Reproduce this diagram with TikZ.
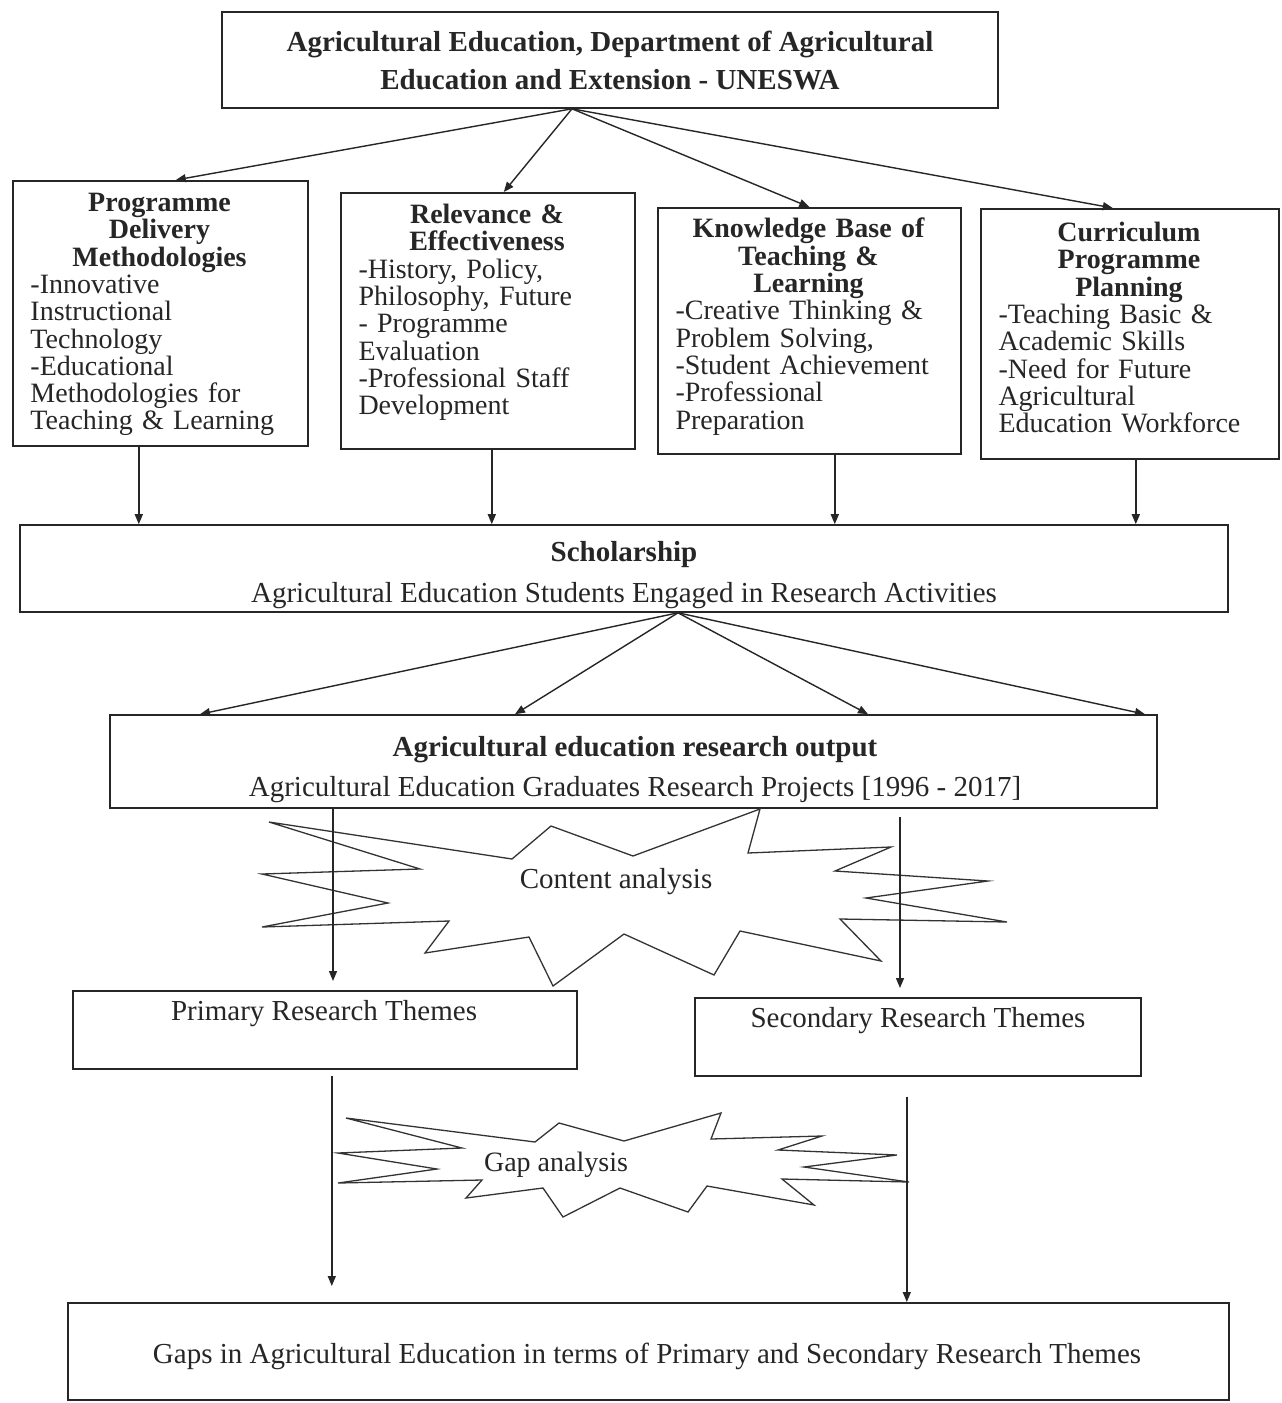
\documentclass[tikz,border=0pt]{standalone}
\usepackage{fontspec}
\setmainfont{Liberation Serif}
\usetikzlibrary{arrows.meta,calc}
\tikzset{
  box/.style={draw=black!85, line width=1.6pt, rectangle, inner sep=0pt},
  txt/.style={inner sep=0pt, text=black!85, font=\fontsize{28}{27.3}\selectfont},
  bigtxt/.style={inner sep=0pt, text=black!85, font=\fontsize{29}{28}\selectfont},
  arr/.style={draw=black!85, line width=1.4pt, -{Triangle[length=10pt,width=8pt]}},
  starline/.style={draw=black!80, line width=1.3pt, line join=miter},
}
\begin{document}
\begin{tikzpicture}[x=1pt,y=-1pt]
\useasboundingbox (0,0) rectangle (1282,1403);
\fill[white] (0,0) rectangle (1282,1403);

% top box
\node[box, minimum width=776pt, minimum height=96pt] (top) at (610,60) {};
\node[bigtxt, align=center, font=\fontsize{29}{28}\selectfont\bfseries] (toptxt) at (610,61)
  {Agricultural Education, Department of Agricultural\\[10pt]Education and Extension - UNESWA};

% four boxes
\node[box, minimum width=295pt, minimum height=265pt, anchor=north west] (b1) at (12,180) {};
\node[box, minimum width=294pt, minimum height=256pt, anchor=north west] (b2) at (340,192) {};
\node[box, minimum width=303pt, minimum height=246pt, anchor=north west] (b3) at (657,207) {};
\node[box, minimum width=298pt, minimum height=250pt, anchor=north west] (b4) at (980,208) {};

\node[txt, text width=258pt, anchor=north] (t1) at (159.5,193)
  {{\centering\bfseries Programme\\Delivery\\Methodologies\par}\raggedright
   -Innovative\\Instructional\\Technology\\-Educational\\Methodologies for\\Teaching \& Learning};
\node[txt, text width=257pt, anchor=north] (t2) at (487,204)
  {{\centering\bfseries Relevance \&\\Effectiveness\par}\raggedright
   -History, Policy,\\Philosophy, Future\\- Programme\\Evaluation\\-Professional Staff\\Development};
\node[txt, text width=266pt, anchor=north] (t3) at (808.5,218)
  {{\centering\bfseries Knowledge Base of\\Teaching \&\\Learning\par}\raggedright
   -Creative Thinking \&\\Problem Solving,\\-Student Achievement\\-Professional\\Preparation};
\node[txt, text width=261pt, anchor=north] (t4) at (1129,222)
  {{\centering\bfseries Curriculum\\Programme\\Planning\par}\raggedright
   -Teaching Basic \&\\Academic Skills\\-Need for Future\\Agricultural\\Education Workforce};

% scholarship
\node[box, minimum width=1208pt, minimum height=87pt] (sch) at (624,568.5) {};
\node[bigtxt, align=center] (schtxt) at (624,575)
  {\textbf{Scholarship}\\[13pt]Agricultural Education Students Engaged in Research Activities};

% research output
\node[box, minimum width=1047pt, minimum height=93pt] (out) at (633.5,761.5) {};
\node[bigtxt, align=center] (outtxt) at (635,770)
  {\textbf{Agricultural education research output}\\[12pt]Agricultural Education Graduates Research Projects [1996 - 2017]};

% content analysis star
\draw[starline] (269,822) -- (512,859) -- (551,826) -- (633,856) -- (760,809) -- (748,853)
  -- (891,847) -- (835,871) -- (988,881) -- (866,898) -- (1007,922) -- (840,919)
  -- (881,961) -- (740,931) -- (714,975) -- (624,934) -- (553,986) -- (529,937)
  -- (425,953) -- (449,921) -- (262,927) -- (388,903) -- (262,874) -- (420,869) -- cycle;
\node[bigtxt] (catxt) at (616,882) {Content analysis};

% primary / secondary
\node[box, minimum width=504pt, minimum height=78pt, anchor=north west] (prim) at (72,990) {};
\node[bigtxt] (primtxt) at (324,1014) {Primary Research Themes};
\node[box, minimum width=446pt, minimum height=78pt, anchor=north west] (sec) at (694,997) {};
\node[bigtxt] (sectxt) at (918,1021) {Secondary Research Themes};

% gap analysis star
\draw[starline] (346,1118) -- (535,1142) -- (559,1123) -- (624,1141) -- (721,1113) -- (711,1139)
  -- (822,1136) -- (778,1150) -- (897,1155) -- (804,1167) -- (909,1182) -- (782,1179)
  -- (814,1205) -- (707,1186) -- (688,1212) -- (620,1188) -- (563,1217) -- (543,1188)
  -- (466,1198) -- (482,1180) -- (338,1183) -- (437,1169) -- (338,1153) -- (462,1148) -- cycle;
\node[txt] (gatxt) at (556,1165) {Gap analysis};

% bottom box
\node[box, minimum width=1161pt, minimum height=97pt, anchor=north west] (bot) at (67,1302) {};
\node[bigtxt] (bottxt) at (647,1356) {Gaps in Agricultural Education in terms of Primary and Secondary Research Themes};

% arrows top -> four boxes
\coordinate (tsrc) at ([xshift=-38pt]top.south);
\draw[arr] (tsrc) -- ([xshift=15.5pt]b1.north);
\draw[arr] (tsrc) -- ([xshift=16pt]b2.north);
\draw[arr] (tsrc) -- (b3.north);
\draw[arr] (tsrc) -- ([xshift=-17pt]b4.north);

% four boxes -> scholarship
\draw[arr] ([xshift=-21.5pt]b1.south) -- ([xshift=-21.5pt]b1.south |- sch.north);
\draw[arr] ([xshift=4pt]b2.south) -- ([xshift=4pt]b2.south |- sch.north);
\draw[arr] ([xshift=25.5pt]b3.south) -- ([xshift=25.5pt]b3.south |- sch.north);
\draw[arr] ([xshift=6pt]b4.south) -- ([xshift=6pt]b4.south |- sch.north);

% scholarship -> output
\coordinate (ssrc) at ([xshift=54pt]sch.south);
\draw[arr] (ssrc) -- ([xshift=-433.5pt]out.north);
\draw[arr] (ssrc) -- ([xshift=-118.5pt]out.north);
\draw[arr] (ssrc) -- ([xshift=234.5pt]out.north);
\draw[arr] (ssrc) -- ([xshift=511.5pt]out.north);

% output -> primary / secondary
\draw[arr, shorten >=9pt] ([xshift=-300.5pt]out.south) -- ([xshift=-300.5pt]out.south |- prim.north);
\draw[arr, shorten <=8pt, shorten >=9pt] ([xshift=266.5pt]out.south) -- ([xshift=266.5pt]out.south |- sec.north);

% primary / secondary -> bottom
\draw[arr, shorten <=6pt, shorten >=16pt] ([xshift=7pt]prim.south) -- ([xshift=7pt]prim.south |- bot.north);
\draw[arr, shorten <=20pt] ([xshift=-11pt]sec.south) -- ([xshift=-11pt]sec.south |- bot.north);
\end{tikzpicture}
\end{document}
